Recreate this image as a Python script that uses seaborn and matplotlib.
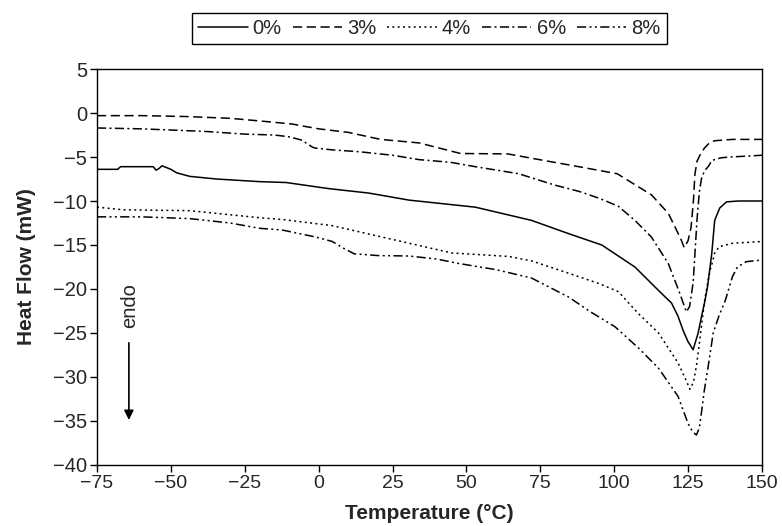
import numpy as np
import pandas as pd
import seaborn as sns
import matplotlib
matplotlib.use("Agg")
import matplotlib.pyplot as plt
from matplotlib.lines import Line2D

# ---- data ----
labels = ["0%", "3%", "4%", "6%", "8%"]

t_0 = [-75, -68, -67, -56, -55, -54, -53, -50, -48, -43.6, -34.6, -20, -11, 3.6, 17, 30.6, 53, 72,
       84.5, 95.8, 107, 116, 119.4, 121.6, 123.3, 125, 126.7, 128.4, 129.5, 130.6, 131.6, 133, 134,
       135.7, 138, 142, 150]
hf_0 = [-6.4, -6.4, -6.1, -6.1, -6.5, -6.3, -6.0, -6.4, -6.8, -7.2, -7.5, -7.8, -7.9, -8.6, -9.1, -9.9,
        -10.7, -12.2, -13.7, -15.0, -17.5, -20.5, -21.6, -23.1, -24.7, -26.0, -26.9, -25.0, -23.2,
        -21.5, -19.7, -16.0, -12.2, -10.8, -10.1, -10.0, -10.0]

t_3 = [-75, -60, -45, -30, -20, -9, -5, 0, 10, 21, 34, 48, 64, 78, 88, 101, 112.6, 118.3, 120.5,
       122.5, 123.7, 125, 126, 126.8, 127.3, 128, 129, 130.5, 132.2, 134, 140, 150]
hf_3 = [-0.3, -0.3, -0.4, -0.6, -0.9, -1.25, -1.5, -1.8, -2.2, -3.0, -3.4, -4.6, -4.65, -5.5, -6.1,
        -6.9, -9.3, -11.4, -12.9, -14.3, -15.3, -14.5, -13.0, -10.0, -7.0, -5.5, -4.8, -4.0, -3.4,
        -3.15, -3.0, -3.0]

t_4 = [-75, -66, -43.6, -20, -12.3, 4.6, 21.5, 30.6, 45, 64.3, 72, 84.5, 95, 101.4, 108.2, 115,
       121.6, 124.5, 125.6, 126.8, 127.8, 128.7, 129.5, 130.5, 131.5, 132.5, 133.2, 134, 135.5,
       140, 150]
hf_4 = [-10.7, -11.0, -11.1, -11.9, -12.1, -12.8, -14.1, -14.8, -15.9, -16.3, -16.8, -18.2, -19.4,
        -20.3, -22.8, -25.0, -28.4, -30.5, -31.4, -30.6, -28.8, -26.5, -24.3, -21.5, -19.5, -17.8,
        -17.0, -15.9, -15.2, -14.8, -14.6]

t_6 = [-75, -60, -45, -38, -25, -15, -10, -5.5, -4.3, -2, -0.9, 5, 13.7, 25, 34, 44.6, 53, 67.7,
       73.3, 80, 88, 95, 101.4, 107, 112.6, 118.3, 122.2, 124.4, 125.5, 126.7, 127.5, 128, 128.8,
       129.5, 130.5, 132, 133, 136, 139, 145, 150]
hf_6 = [-1.7, -1.8, -2.0, -2.1, -2.4, -2.5, -2.7, -3.1, -3.4, -3.9, -4.0, -4.2, -4.4, -4.8, -5.3,
        -5.6, -6.1, -6.9, -7.5, -8.2, -8.9, -9.7, -10.6, -12.2, -14.1, -17.1, -20.5, -22.6, -22.0,
        -19.3, -15.0, -12.2, -9.0, -7.5, -6.6, -6.0, -5.4, -5.1, -5.0, -4.9, -4.8]

t_8 = [-75, -60, -43.6, -30, -20, -12.3, -0.9, 4.6, 8.6, 12, 20, 30.6, 40, 47.4, 60, 72, 84.5, 92,
       100.3, 108.2, 115, 121.6, 125, 126.5, 127.8, 128.8, 129.5, 130.5, 131.8, 133.5, 135.5, 137.6,
       140, 141.7, 144.6, 150]
hf_8 = [-11.8, -11.8, -12.0, -12.5, -13.1, -13.3, -14.1, -14.6, -15.4, -16.0, -16.2, -16.25, -16.6,
        -17.1, -17.8, -18.75, -20.9, -22.6, -24.3, -26.7, -29.0, -32.2, -35.3, -36.2, -36.6, -35.8,
        -34.1, -31.5, -28.8, -25.0, -23.0, -21.3, -18.6, -17.5, -16.9, -16.7]

x_ticks = [-75, -50, -25, 0, 25, 50, 75, 100, 125, 150]
y_ticks = [5, 0, -5, -10, -15, -20, -25, -30, -35, -40]

# ---- styling ----
sns.set_style("ticks")
plt.rcParams["font.family"] = ["Liberation Sans", "DejaVu Sans"]

series = [(t_0, hf_0), (t_3, hf_3), (t_4, hf_4), (t_6, hf_6), (t_8, hf_8)]
styles = ["-", (0, (6, 3)), (0, (1.3, 2.2)), (0, (6, 2.2, 1.3, 2.2)),
          (0, (6, 2.2, 1.3, 2.2, 1.3, 2.2))]

fig = plt.figure(figsize=(7.82, 5.26), dpi=100)
ax = fig.add_axes([0.124, 0.116, 0.8504, 0.7528])

frames = []
for lab, (t, h) in zip(labels, series):
    frames.append(pd.DataFrame({"Temperature": t, "HeatFlow": h, "Sample": lab}))
df = pd.concat(frames, ignore_index=True)

handles = []
for lab, ls in zip(labels, styles):
    sub = df[df["Sample"] == lab]
    sns.lineplot(data=sub, x="Temperature", y="HeatFlow", ax=ax, color="black",
                 linewidth=1.1, sort=False, errorbar=None, estimator=None)
    ax.lines[-1].set_linestyle(ls)
    handles.append(Line2D([], [], color="black", linewidth=1.1, linestyle=ls))

ax.set_xlim(-75, 150)
ax.set_ylim(-40, 5)
ax.set_xticks(x_ticks)
ax.set_yticks(y_ticks)
ax.set_xticklabels([str(v).replace("-", "\u2212") for v in x_ticks], fontsize=14)
ax.set_yticklabels([str(v).replace("-", "\u2212") for v in y_ticks], fontsize=14.5)
ax.tick_params(direction="out", length=5, width=1, color="black", pad=2)
for s in ax.spines.values():
    s.set_visible(True)
    s.set_linewidth(1.0)
    s.set_color("black")

ax.set_xlabel("Temperature (\u00b0C)", fontsize=15, fontweight="bold", labelpad=9)
ax.set_ylabel("Heat Flow (mW)", fontsize=15, fontweight="bold", labelpad=12)

# endo arrow
ax.annotate("", xy=(-64.2, -35.2), xytext=(-64.2, -25.8),
            arrowprops=dict(arrowstyle="-|>", color="black", lw=1.2, mutation_scale=14))
ax.text(-64.0, -21.9, "endo", rotation=90, ha="center", va="center", fontsize=14.5)

leg = fig.legend(handles, labels, loc="center", bbox_to_anchor=(0.549, 0.946), ncol=5,
                 frameon=True, fancybox=False, edgecolor="black", fontsize=14.5,
                 handlelength=2.45, handletextpad=0.25, columnspacing=0.55,
                 borderpad=0.3, borderaxespad=0, framealpha=1)
leg.get_frame().set_linewidth(1.0)

fig.savefig("out.png", dpi=100)
